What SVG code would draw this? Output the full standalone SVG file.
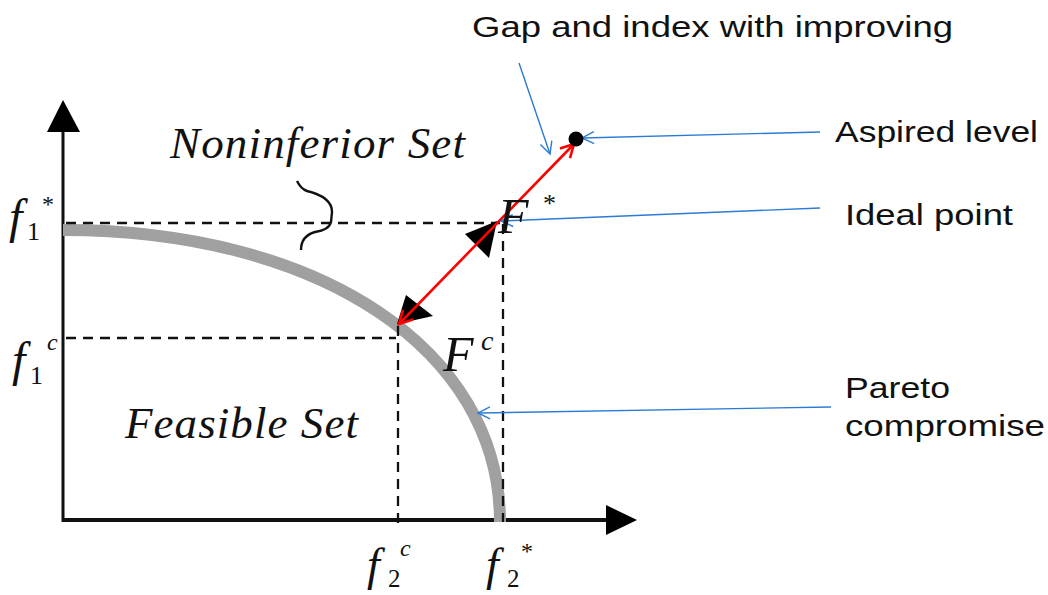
<svg xmlns="http://www.w3.org/2000/svg" width="1048" height="595" viewBox="0 0 1048 595">
<style>
.axis{stroke:#111;fill:none}
.dash{stroke:#111;stroke-width:2.3;stroke-dasharray:10 7;fill:none}
.blue{stroke:#2b7bd6;stroke-width:1.4;fill:none;marker-end:url(#bArr)}
.lbl{font-family:"Liberation Sans",Arial,sans-serif;font-size:30px;fill:#111}
.it{font-family:"Liberation Serif","Times New Roman",serif;font-style:italic;fill:#111}
.rm{font-family:"Liberation Serif","Times New Roman",serif;fill:#111}
</style>
<defs>
<marker id="bArr" markerUnits="userSpaceOnUse" markerWidth="16" markerHeight="16" refX="13" refY="7" orient="auto">
<path d="M1,1 L13,7 L1,13" fill="none" stroke="#2b7bd6" stroke-width="1.4"/>
</marker>
<marker id="rArr" markerUnits="userSpaceOnUse" markerWidth="20" markerHeight="20" refX="15" refY="9" orient="auto-start-reverse">
<path d="M2,2 L15,9 L2,16" fill="none" stroke="#ff0000" stroke-width="2.6"/>
</marker>
</defs>
<rect width="1048" height="595" fill="#fff"/>
<g id="axes">
<line class="axis" x1="63" y1="128" x2="63" y2="522" stroke-width="3"/>
<polygon points="63,100 47,132 80,132" fill="#000"/>
<line class="axis" x1="62" y1="520" x2="610" y2="520" stroke-width="4"/>
<polygon points="637,520 606,505 606,535" fill="#000"/>
</g>
<g id="pareto-curve">
<path d="M63,230 C320,230 500,350 500,522" fill="none" stroke="#a0a0a0" stroke-width="12"/>
</g>
<g id="guides">
<line class="dash" x1="66" y1="223" x2="500" y2="223"/>
<line class="dash" x1="503" y1="224" x2="503" y2="522"/>
<line class="dash" x1="66" y1="338" x2="396" y2="338"/>
<line class="dash" x1="398" y1="326" x2="398" y2="527"/>
</g>
<g id="brace">
<path d="M297,181 Q301,189 307,191 Q332,197 332,212 L331,222 Q329,230 315,232 Q301,236 301,250" fill="none" stroke="#111" stroke-width="2.4"/>
</g>
<g id="double-arrow">
<polygon points="497,221 465,234 489,258" fill="#000"/>
<polygon points="397,324 406,295 433,316" fill="#000"/>
</g>
<g id="connectors">
<line x1="399" y1="324" x2="574" y2="144" stroke="#ff0000" stroke-width="2.6" marker-start="url(#rArr)" marker-end="url(#rArr)"/>
<line class="blue" x1="519" y1="63" x2="550" y2="154"/>
<line class="blue" x1="820" y1="132" x2="582" y2="138"/>
<line class="blue" x1="820" y1="208" x2="501" y2="221"/>
<line class="blue" x1="831" y1="407" x2="478" y2="413"/>
</g>
<g id="aspired-point">
<circle cx="576" cy="139" r="7.5" fill="#000"/>
</g>
<g id="labels">
<text class="lbl" x="472" y="37" textLength="481" lengthAdjust="spacingAndGlyphs">Gap and index with improving</text>
<text class="lbl" x="835" y="142" textLength="203" lengthAdjust="spacingAndGlyphs">Aspired level</text>
<text class="lbl" x="845" y="225" textLength="168" lengthAdjust="spacingAndGlyphs">Ideal point</text>
<text class="lbl" x="845" y="398" textLength="105" lengthAdjust="spacingAndGlyphs">Pareto</text>
<text class="lbl" x="845" y="436" textLength="200" lengthAdjust="spacingAndGlyphs">compromise</text>
<text class="it" x="170" y="158" font-size="45" textLength="295">Noninferior Set</text>
<text class="it" x="125" y="438" font-size="45" textLength="233">Feasible Set</text>
<text class="it" x="498" y="233" font-size="50">F</text>
<text class="rm" x="543" y="212" font-size="26">*</text>
<text class="it" x="443" y="371" font-size="50">F</text>
<text class="it" x="481" y="350" font-size="28">c</text>
<text class="it" x="9" y="233" font-size="48">f</text>
<text class="rm" x="27" y="240" font-size="26">1</text>
<text class="rm" x="42" y="212" font-size="24">*</text>
<text class="it" x="12" y="376" font-size="48">f</text>
<text class="rm" x="30" y="384" font-size="26">1</text>
<text class="it" x="47" y="350" font-size="24">c</text>
<text class="it" x="367" y="580" font-size="46">f</text>
<text class="rm" x="388" y="587" font-size="25">2</text>
<text class="it" x="400" y="556" font-size="24">c</text>
<text class="it" x="486" y="580" font-size="46">f</text>
<text class="rm" x="507" y="587" font-size="25">2</text>
<text class="rm" x="521" y="559" font-size="24">*</text>
</g>
</svg>
